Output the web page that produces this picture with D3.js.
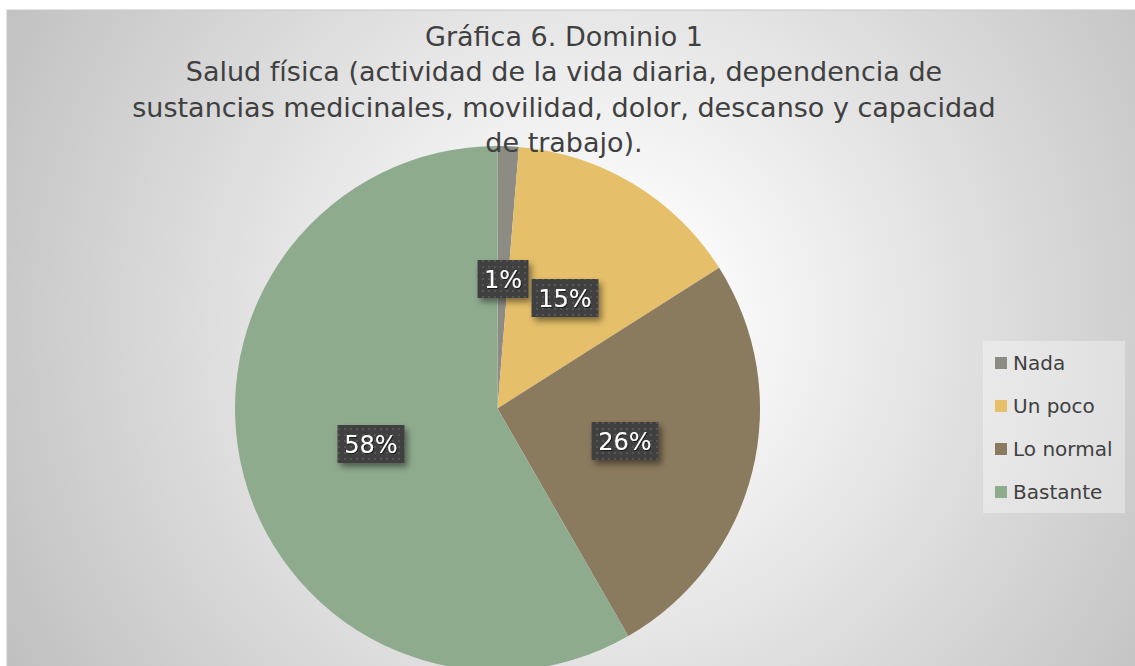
<!DOCTYPE html>
<html><head><meta charset="utf-8">
<script src="https://cdn.jsdelivr.net/npm/d3@7"></script>
<style>html,body{margin:0;padding:0;background:#fff;overflow:hidden}</style>
</head><body>
<svg id="chart" width="1135" height="666"></svg>
<script>
const categories = ["Nada", "Un poco", "Lo normal", "Bastante"];
const values = [1.3, 14.7, 25.7, 58.3];
const labels = ["1%", "15%", "26%", "58%"];
const colors = ["#8c8c84", "#e5bf69", "#8a7a5e", "#8fab8e"];
const titleLines = ["Gráfica 6. Dominio 1",
  "Salud física (actividad de la vida diaria, dependencia de",
  "sustancias medicinales, movilidad, dolor, descanso y capacidad",
  "de trabajo)."];

const FONT = "'DejaVu Sans', sans-serif";
const svg = d3.select("#chart");
const W = 1135, H = 666;
const defs = svg.append("defs");
const rg = defs.append("radialGradient").attr("id","bg")
  .attr("gradientUnits","userSpaceOnUse").attr("cx",600).attr("cy",320).attr("r",700);
rg.append("stop").attr("offset","0").attr("stop-color","#ffffff");
rg.append("stop").attr("offset","0.15").attr("stop-color","#fbfbfb");
rg.append("stop").attr("offset","1").attr("stop-color","#bebebe");
const pat = defs.append("pattern").attr("id","dots").attr("patternUnits","userSpaceOnUse")
  .attr("width",6).attr("height",6);
pat.append("rect").attr("width",6).attr("height",6).attr("fill","#404040");
pat.append("rect").attr("x",2).attr("y",2).attr("width",2).attr("height",2).attr("fill","#545454");
const sh = defs.append("filter").attr("id","shadow").attr("x","-30%").attr("y","-30%").attr("width","170%").attr("height","170%");
sh.append("feDropShadow").attr("dx",3).attr("dy",4).attr("stdDeviation",3).attr("flood-color","#000").attr("flood-opacity",0.45);
const ts = defs.append("filter").attr("id","tshadow");
ts.append("feDropShadow").attr("dx",1).attr("dy",1).attr("stdDeviation",0.6).attr("flood-color","#000").attr("flood-opacity",0.6);

svg.append("rect").attr("x",7).attr("y",10).attr("width",W).attr("height",H)
  .attr("fill","url(#bg)").attr("stroke","#c8c8c8");

const cx = 497.5, cy = 408.5, R = 262.5;
const pie = d3.pie().sort(null).value(d=>d);
const arcs = pie(values);
const arc = d3.arc().innerRadius(0).outerRadius(R);
const g = svg.append("g").attr("transform",`translate(${cx},${cy})`);
g.selectAll("path").data(arcs).join("path")
  .attr("d",arc).attr("fill",(d,i)=>colors[i]);

const title = svg.append("g").attr("font-family",FONT)
  .attr("font-size",27).attr("fill","#404040").attr("text-anchor","middle");
titleLines.forEach((t,i)=>{
  title.append("text").attr("x",564).attr("y",46 + i*35.3).text(t);
});

const labelPos = [[503,279],[565,298],[625,441],[371,444]];
const lg = svg.append("g");
arcs.forEach((d,i)=>{
  const [x,y] = labelPos[i];
  const w = labels[i].length===2 ? 51 : 67, h = 38;
  lg.append("rect").attr("x",x-w/2).attr("y",y-h/2).attr("width",w).attr("height",h)
    .attr("fill","url(#dots)").attr("filter","url(#shadow)");
  lg.append("text").attr("x",x).attr("y",y+9).attr("text-anchor","middle")
    .attr("font-family",FONT).attr("font-size",24)
    .attr("fill","#fff").attr("filter","url(#tshadow)").text(labels[i]);
});

const leg = svg.append("g");
leg.append("rect").attr("x",983).attr("y",341).attr("width",142).attr("height",172)
  .attr("fill","#ffffff").attr("fill-opacity",0.35);
categories.forEach((c,i)=>{
  const y = 363 + i*43;
  leg.append("rect").attr("x",995).attr("y",y-6).attr("width",12).attr("height",12).attr("fill",colors[i]);
  leg.append("text").attr("x",1013).attr("y",y+7).attr("font-family",FONT)
    .attr("font-size",20).attr("fill","#404040").text(c);
});
</script>
</body></html>
